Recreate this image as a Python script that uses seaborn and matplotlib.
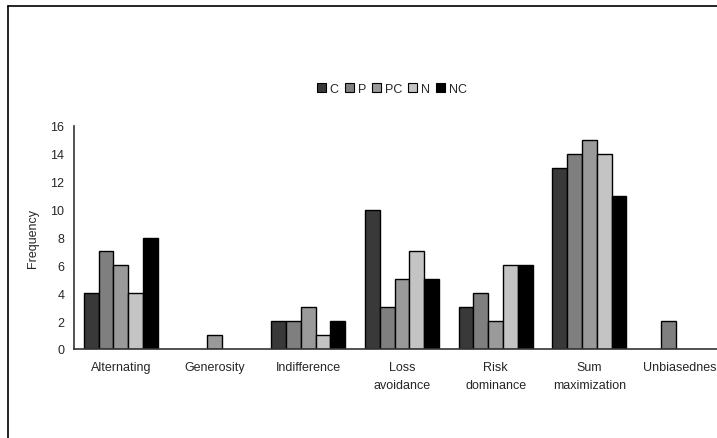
import matplotlib
matplotlib.use("Agg")
import matplotlib.pyplot as plt
from matplotlib.lines import Line2D
from matplotlib.patches import Patch
import numpy as np
import pandas as pd
import seaborn as sns

categories = ["Alternating", "Generosity", "Indifference", "Loss\navoidance",
              "Risk\ndominance", "Sum\nmaximization", "Unbiasedness"]
series = ["C", "P", "PC", "N", "NC"]
c_vals = [4, 0, 2, 10, 3, 13, 0]
p_vals = [7, 0, 2, 3, 4, 14, 2]
pc_vals = [6, 1, 3, 5, 2, 15, 0]
n_vals = [4, 0, 1, 7, 6, 14, 0]
nc_vals = [8, 0, 2, 5, 6, 11, 0]
y_ticks = [0, 2, 4, 6, 8, 10, 12, 14, 16]
colors = ["#393939", "#7f7f7f", "#9a9a9a", "#c4c4c4", "#000000"]

values = [c_vals, p_vals, pc_vals, n_vals, nc_vals]
df = pd.DataFrame({
    "category": [c for _ in series for c in categories],
    "series": [s for s in series for _ in categories],
    "freq": [v for vals in values for v in vals],
})

sns.set_theme(style="white")
plt.rcParams["font.family"] = ["Liberation Sans Narrow", "Liberation Sans", "DejaVu Sans"]

W, H = 717, 439
fig = plt.figure(figsize=(W / 100, H / 100), dpi=100)
fig.patch.set_facecolor("white")

ax_left, ax_bottom, ax_top = 74, 350, 127
cat_w = 93.7
ax = fig.add_axes([ax_left / W, (H - ax_bottom) / H,
                   7 * cat_w / W, (ax_bottom - ax_top) / H])
ax.set_facecolor("white")

sns.barplot(data=df, x="category", y="freq", hue="series", order=categories,
            hue_order=series, palette=colors, saturation=1, width=0.79,
            edgecolor="black", linewidth=1.0, legend=False, ax=ax)

# zero-height bars would still show an edge line on the axis; hide them
for p in ax.patches:
    if p.get_height() == 0:
        p.set_visible(False)

ax.set_xlim(-0.5, len(categories) - 0.5)
ax.set_ylim(0, 16)
ax.set_yticks(y_ticks)
ax.set_yticklabels([str(t) for t in y_ticks], fontsize=9)
ax.set_xlabel("")
ax.set_ylabel("Frequency", fontsize=9, labelpad=8)

ax.set_xticks(range(len(categories)))
ax.set_xticklabels(categories, fontsize=9, linespacing=1.6)
ax.tick_params(axis="x", which="major", length=0, pad=9)
ax.set_xticks(np.arange(-0.5, len(categories), 1.0), minor=True)
ax.tick_params(axis="x", which="minor", length=4, width=1, color="#333333", direction="out")
ax.tick_params(axis="y", length=4, width=1, color="#333333", direction="out", pad=3)

sns.despine(ax=ax, top=True, right=True)
for side in ("left", "bottom"):
    ax.spines[side].set_color("#333333")
    ax.spines[side].set_linewidth(1.2)

handles = [Patch(facecolor=c, edgecolor="black", linewidth=0.8, label=s)
           for s, c in zip(series, colors)]
fig.legend(handles=handles, loc="center", bbox_to_anchor=(392 / W, (H - 90) / H),
           ncol=5, frameon=False, fontsize=9, handlelength=0.7, handleheight=0.7,
           handletextpad=0.3, columnspacing=0.5, borderaxespad=0)

# page frame around the figure area
fig.add_artist(Line2D([8 / W, 8 / W], [0, (H - 7) / H], color="black", lw=1.2))
fig.add_artist(Line2D([8 / W, 1], [(H - 7) / H, (H - 7) / H], color="black", lw=1.2))

fig.savefig("out.png", dpi=100, facecolor="white")
